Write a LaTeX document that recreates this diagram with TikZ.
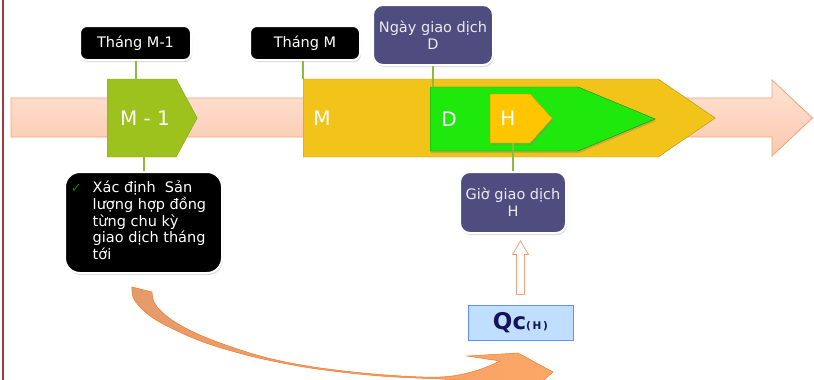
\documentclass[tikz,border=0pt]{standalone}
\usepackage{fontspec}
\setmainfont{DejaVu Sans}
\usepackage{tikz}
\usetikzlibrary{positioning,calc,shapes,shadows}
\usepackage{xcolor}

\definecolor{lineA}{HTML}{FEE3D5}
\definecolor{lineB}{HTML}{FBC8AD}
\definecolor{lineEdge}{HTML}{F2A27E}
\definecolor{prevGreen}{HTML}{9DC21D}
\definecolor{monthGold}{HTML}{F2C419}
\definecolor{dayGreen}{HTML}{1EE80C}
\definecolor{hourGold}{HTML}{FFC600}
\definecolor{stemGreen}{HTML}{8DBB3C}
\definecolor{cardNavy}{HTML}{4F4D80}
\definecolor{qcFill}{HTML}{C0DEFF}
\definecolor{qcEdge}{HTML}{6090FF}
\definecolor{qcText}{HTML}{14145C}
\definecolor{curveA}{HTML}{E69A6A}
\definecolor{curveB}{HTML}{FCA766}
\definecolor{curveEdge}{HTML}{F07A28}
\definecolor{slideEdge}{HTML}{A33A3A}

\tikzset{
    tag/.style={
        draw=white,
        line width=2pt,
        rounded corners=7pt,
        fill=black,
        text=white,
        inner sep=0pt,
        align=center,
        font=\fontsize{14.5}{16.7}\selectfont,
        drop shadow={shadow xshift=1pt, shadow yshift=-2pt, opacity=0.3}
    },
    period/.style={
        shape=signal,
        signal to=east,
        anchor=west,
        inner sep=0pt
    },
    stem/.style={
        draw=stemGreen,
        line width=2pt
    }
}

\begin{document}
\begin{tikzpicture}[x=1pt,y=-1pt]
  % Define styles for boxes and labels
  \tikzset{
    card/.style={
      tag,
      rounded corners=10pt,
      fill=cardNavy,
      text=white!88!cardNavy
    },
    periodlabel/.style={
      text=white,
      font=\fontsize{20}{24}\selectfont
    },
    qcbox/.style={
      draw=qcEdge,
      fill=qcFill,
      line width=1pt,
      minimum width=105pt,
      minimum height=35pt,
      text=qcText
    }
  }

  \clip (0,0) rectangle (814,380);

  % Slide edge
  \draw[slideEdge, line width=2pt] (3,0) -- (3,380);

  % Timeline arrow
  \draw[top color=lineA, bottom color=lineB, draw=lineEdge, line width=0.8pt]
    (11,98) -- (772,98) -- (772,80) -- (812.5,118) -- (772,156) -- (772,137) -- (11,137) -- cycle;

  % Periods on the timeline
  \node[period, fill=prevGreen, draw=prevGreen!85!black, minimum width=90pt,
        minimum height=78pt, signal pointer angle=123.4] (m1) at (107,118) {};
  \node[period, fill=monthGold, draw=monthGold!75!black, minimum width=412pt,
        minimum height=78pt, signal pointer angle=68.8] (m) at (303,118) {};
  \node[period, fill=dayGreen, draw=dayGreen!60!black, minimum width=225pt,
        minimum height=64pt, signal pointer angle=45.1,
        drop shadow={shadow xshift=1pt, shadow yshift=-2pt, opacity=0.35}] (d) at (430,119) {};
  \node[period, fill=hourGold, draw=hourGold!80!black, minimum width=62pt,
        minimum height=49pt, signal pointer angle=96.2,
        drop shadow={shadow xshift=1pt, shadow yshift=-2pt, opacity=0.35}] (h) at (490,118.5) {};

  \node[periodlabel] (m1t) at (145,118) {M - 1};
  \node[periodlabel] (mt) at (322,118) {M};
  \node[periodlabel] (dt) at (449,119) {D};
  \node[periodlabel] (ht) at (508,118.5) {H};

  % Boxes above and below
  \node[tag, minimum width=111pt, minimum height=34pt] (thm1) at (135.5,43) {Tháng M-1};
  \node[tag, minimum width=110pt, minimum height=34pt] (thm) at (305,43) {Tháng M};
  \node[card, minimum width=120pt, minimum height=60pt] (ngay) at (433,35) {Ngày giao dịch\\D};
  \node[card, minimum width=106pt, minimum height=61pt] (gio) at (513,202.5) {Giờ giao dịch\\H};
  \node[tag, rounded corners=15pt, minimum width=157pt, minimum height=101pt] (xd) at (143.5,222.5)
    {\begin{tabular}{@{}l@{\hspace{11pt}}l@{}}
       {\fontsize{13}{16.7}\selectfont\color{green!55!black}✓} & Xác định\ \ Sản\\
       & lượng hợp đồng\\
       & từng chu kỳ\\
       & giao dịch tháng\\
       & tới
     \end{tabular}\hspace{10pt}};
  \node[qcbox] (qc) at (520.5,322.5)
    {\bfseries{\fontsize{23}{24}\selectfont Qc}{\fontsize{10.5}{12}\selectfont(\,H\,)}};

  % Stems between boxes and periods
  \draw[stem] (thm1.south) -- (thm1.south |- m1.north);
  \draw[stem] (m.west |- thm.south) -- (m.west |- m.north);
  \draw[stem] (ngay.south) -- (ngay.south |- d.north);
  \draw[stem] (gio.north) -- (gio.north |- h.south);
  \draw[stem] (xd.north) -- (xd.north |- m1.south);

  % Hollow arrow from Qc up to the hour box
  \draw[draw=lineEdge, fill=white, line width=0.8pt]
    ($(qc.north)+(-4,-10)$) -- ($(qc.north)+(4,-10)$) -- ($(qc.north)+(4,-50)$)
    -- ($(qc.north)+(8,-50)$) -- ($(gio.south -| qc.north)+(0,7)$)
    -- ($(qc.north)+(-8,-50)$) -- ($(qc.north)+(-4,-50)$) -- cycle;

  % Curved arrow from the note towards Qc
  \draw[left color=curveA, right color=curveB, draw=curveEdge, line width=0.5pt]
    (132,287) -- (152,292)
    -- plot[smooth, tension=0.6] coordinates {(152,292) (154,302) (161,311) (175,322) (200,335)
         (233,347.5) (270,358.5) (317,367.5) (380,374.5) (440,377) (475,371) (500,361)}
    -- (467,356) -- (518,353) -- (553,372) -- (530,392) -- (505,382)
    -- plot[smooth, tension=0.6] coordinates {(505,382) (470,380.5) (440,379) (380,376) (317,369)
         (270,360.5) (237,352.5) (203,342) (173,329) (153,318) (140,307) (133,297) (132,287)}
    -- cycle;
\end{tikzpicture}
\end{document}
